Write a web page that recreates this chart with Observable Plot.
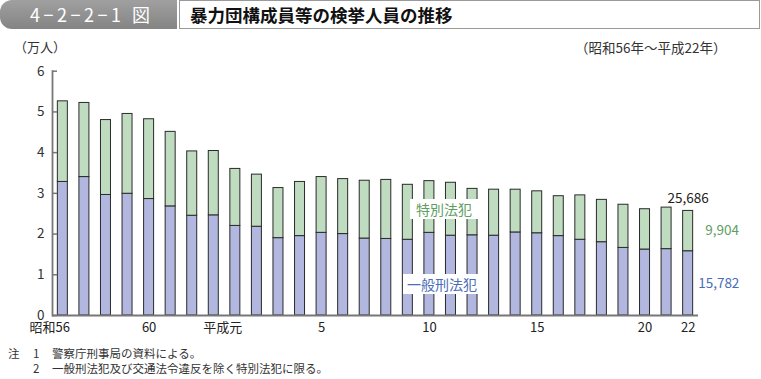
<!DOCTYPE html>
<html><head><meta charset="utf-8">
<script src="https://cdn.jsdelivr.net/npm/d3@7"></script>
<script src="https://cdn.jsdelivr.net/npm/@observablehq/plot@0.6"></script>
<style>
body{margin:0;background:#fff;font-family:'Noto Sans CJK JP','Noto Sans',sans-serif;}
#wrap{position:relative;width:761px;height:379px;overflow:hidden;}
.abs{position:absolute;white-space:nowrap;}
.note{font-size:11.5px;line-height:13px;color:#333;}
</style></head><body>
<div id="wrap">
  <div class="abs" style="left:0;top:0;width:177px;height:29px;background:linear-gradient(#a0a0a0,#848484);border-radius:12px 0 0 12px;"></div>
  <div class="abs" style="left:30px;top:1px;font-size:18px;line-height:27px;color:#fff;letter-spacing:3.5px;">4−2−2−1 図</div>
  <div class="abs" style="left:179px;top:0;width:579px;height:27px;border:1px solid #9a9a9a;background:#fff;"></div>
  <div class="abs" style="left:190px;top:1px;font-size:17.5px;line-height:27px;font-weight:bold;color:#111;">暴力団構成員等の検挙人員の推移</div>
  <div class="abs" style="left:14px;top:38px;font-size:13px;line-height:18px;color:#333;">（万人）</div>
  <div class="abs" style="left:575px;top:38px;font-size:13.5px;line-height:18px;color:#333;">（昭和56年～平成22年）</div>
  <div class="abs note" style="left:8px;top:347px;">注</div>
  <div class="abs note" style="left:33px;top:347px;">1</div>
  <div class="abs note" style="left:52px;top:347px;">警察庁刑事局の資料による。</div>
  <div class="abs note" style="left:33px;top:362px;">2</div>
  <div class="abs note" style="left:52px;top:362px;">一般刑法犯及び交通法令違反を除く特別法犯に限る。</div>
  <div id="chart" class="abs" style="left:0;top:0;"></div>
  <div class="abs" style="left:410px;top:199px;width:68px;height:20px;background:#fff;color:#5e9e62;font-size:14px;line-height:20px;text-align:center;z-index:2;">特別法犯</div>
  <div class="abs" style="left:403px;top:274px;width:78px;height:20px;background:#fff;color:#4a6db8;font-size:14px;line-height:20px;text-align:center;z-index:2;">一般刑法犯</div>
</div>
<script>
const years = ["S56","S57","S58","S59","S60","S61","S62","S63","H1","H2","H3","H4","H5","H6","H7","H8","H9","H10","H11","H12","H13","H14","H15","H16","H17","H18","H19","H20","H21","H22"];
const general = [3.28,3.40,2.96,2.99,2.86,2.68,2.45,2.46,2.20,2.18,1.90,1.95,2.03,2.00,1.89,1.88,1.86,2.03,1.96,1.97,1.96,2.04,2.02,1.95,1.86,1.80,1.66,1.62,1.63,1.5782];
const special = [1.98,1.82,1.84,1.96,1.96,1.83,1.58,1.58,1.40,1.28,1.23,1.33,1.37,1.35,1.42,1.45,1.35,1.27,1.30,1.14,1.13,1.05,1.03,0.98,1.09,1.04,1.06,0.99,1.02,0.9904];
const seriesNames = ["一般刑法犯","特別法犯"];
const yTicks = [0,1,2,3,4,5,6];
const xLabelsEnd = [{year:"S56",label:"昭和56"},{year:"H1",label:"平成元"}];
const xLabelsMid = [{year:"S60",label:"60"},{year:"H5",label:"5"},{year:"H10",label:"10"},{year:"H15",label:"15"},{year:"H20",label:"20"},{year:"H22",label:"22"}];
const lastLabels = {total:"25,686", special:"9,904", general:"15,782"};

const rows = [];
years.forEach((y,i)=>{
  rows.push({year:y, series:seriesNames[0], value:general[i]});
  rows.push({year:y, series:seriesNames[1], value:special[i]});
});
const last = years.length-1;
const lastYear = years[last];

const chart = Plot.plot({
  width:761, height:379,
  marginTop:70.7, marginBottom:64, marginLeft:52, marginRight:63,
  style:{fontFamily:"'Noto Sans CJK JP','Noto Sans',sans-serif", fontSize:"13px", color:"#333", background:"transparent", overflow:"visible"},
  x:{domain:years, paddingInner:0.536, paddingOuter:0.248, round:false, axis:null},
  y:{domain:[0,6], axis:null},
  color:{domain:seriesNames, range:["#b1b7de","#bfdcc0"]},
  marks:[
    Plot.barY(rows, {x:"year", y:"value", fill:"series", stroke:"#2a2a2a", strokeWidth:1, order:seriesNames}),
    Plot.axisY({ticks:yTicks, tickSize:0, tickPadding:8, fontSize:13.5, label:null, tickFormat:d=>String(d)}),
    Plot.axisY({ticks:yTicks, tickSize:5, dx:5, text:null, stroke:"#777", strokeWidth:1.5, label:null}),
    Plot.frame({anchor:"left", stroke:"#777", strokeWidth:1.8}),
    Plot.ruleY([0], {stroke:"#777", strokeWidth:2}),
    Plot.text(xLabelsEnd, {x:"year", text:"label", frameAnchor:"bottom", dy:16, dx:7, textAnchor:"end", fontSize:13, fill:"#222"}),
    Plot.text(xLabelsMid, {x:"year", text:"label", frameAnchor:"bottom", dy:16, fontSize:13, fill:"#222"}),
    Plot.text([lastYear], {x:d=>d, y:general[last]+special[last], text:[lastLabels.total], dy:-12, fontSize:13.5, fill:"#222"}),
    Plot.text([lastYear], {x:d=>d, y:general[last]+special[last]/2, text:[lastLabels.special], dx:17, textAnchor:"start", fontSize:13.5, fill:"#5e9e62"}),
    Plot.text([lastYear], {x:d=>d, y:general[last]/2, text:[lastLabels.general], dx:10, textAnchor:"start", fontSize:13.5, fill:"#4a6db8"})
  ]
});
document.getElementById("chart").appendChild(chart);
</script>
</body></html>
